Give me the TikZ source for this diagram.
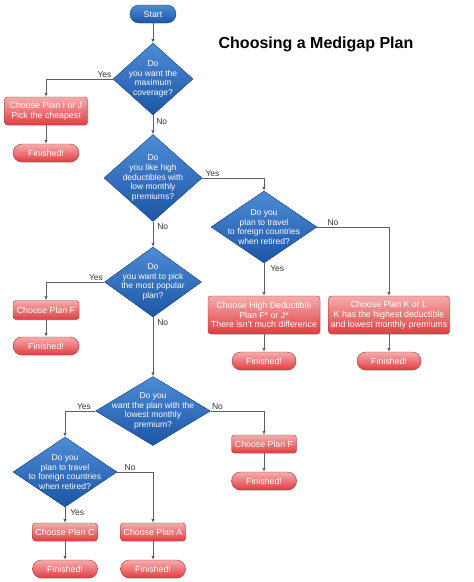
\documentclass[tikz,border=0pt]{standalone}
\usepackage{fontspec}
\setmainfont{Liberation Sans}
\usetikzlibrary{shapes.geometric,arrows.meta,shadows}

\definecolor{dblue}{RGB}{28,86,165}
\definecolor{lblue}{RGB}{78,140,215}
\definecolor{dred}{RGB}{222,62,66}
\definecolor{lred}{RGB}{247,172,172}
\definecolor{wire}{RGB}{95,95,95}

\tikzset{
  decision/.style={diamond, draw=dblue!70!black, top color=lblue, bottom color=dblue, inner sep=0pt},
  dtext/.style={text=white, align=center, font=\fontsize{8.5}{9.6}\selectfont},
  choice/.style={rectangle, rounded corners=3pt, draw=dred!75!black, top color=lred, bottom color=dred,
    text=white, align=center, inner sep=1pt, font=\fontsize{8.8}{9.8}\selectfont,
    drop shadow={opacity=0.18, shadow xshift=1pt, shadow yshift=-1pt}},
  finish/.style={choice, rounded corners=9pt, minimum width=66pt, minimum height=18pt},
  pill/.style={rectangle, rounded corners=9pt, draw=dblue!70!black, top color=lblue, bottom color=dblue,
    text=white, font=\fontsize{8.8}{9.8}\selectfont, minimum width=46pt, minimum height=18pt},
  wire/.style={draw=wire, line width=0.7pt, -{Latex[length=4pt,width=3.5pt]}},
  lab/.style={text=black!80, font=\fontsize{8.5}{9}\selectfont, inner sep=1pt}
}

\begin{document}
\begin{tikzpicture}[x=1pt,y=-1pt]
\useasboundingbox (0,0) rectangle (474,582);

% title and start
\node[font=\bfseries\fontsize{16}{18}\selectfont] (title) at (316,44) {Choosing a Medigap Plan};
\node[pill] (start) at (153,14) {Start};

% questions
\node[decision, minimum width=80pt, minimum height=72pt,
  label={[dtext]center:{Do\\you want the\\maximum\\coverage?}}] (q1) at (153,79) {};
\node[decision, minimum width=98pt, minimum height=87pt,
  label={[dtext]center:{Do\\you like high\\deductibles with\\low monthly\\premiums?}}] (q2) at (153,178) {};
\node[decision, minimum width=106pt, minimum height=72pt,
  label={[dtext]center:{Do you\\plan to travel\\to foreign countries\\when retired?}}] (q3) at (264,227) {};
\node[decision, minimum width=97pt, minimum height=70pt,
  label={[dtext]center:{Do\\you want to pick\\the most popular\\plan?}}] (q4) at (153,282) {};
\node[decision, minimum width=115pt, minimum height=69pt,
  label={[dtext]center:{Do you\\want the plan with the\\lowest monthly\\premium?}}] (q5) at (153,411) {};
\node[decision, minimum width=104pt, minimum height=70pt,
  label={[dtext]center:{Do you\\plan to travel\\to foreign countries\\when retired?}}] (q6) at (65,472) {};

% choices
\node[choice, minimum width=83pt, minimum height=28pt] (planIJ) at (46,111) {Choose Plan I or J\\Pick the cheapest};
\node[choice, minimum width=112pt, minimum height=38pt] (planHD) at (264,315) {Choose High Deductible\\Plan F* or J*\\There isn't much difference};
\node[choice, minimum width=121pt, minimum height=38pt] (planKL) at (389,315) {Choose Plan K or L\\K has the highest deductible\\and lowest monthly premiums};
\node[choice, minimum width=66pt, minimum height=19pt] (planF) at (46,310) {Choose Plan F};
\node[choice, minimum width=65pt, minimum height=18pt] (planF2) at (264,444) {Choose Plan F};
\node[choice, minimum width=65pt, minimum height=18pt] (planC) at (65,532) {Choose Plan C};
\node[choice, minimum width=65pt, minimum height=18pt] (planA) at (153,532) {Choose Plan A};

% finished
\node[finish] (end1) at (46,153) {Finished!};
\node[finish, minimum width=64pt] (end2) at (264,361) {Finished!};
\node[finish, minimum width=64pt] (end3) at (389,361) {Finished!};
\node[finish] (end4) at (46,346) {Finished!};
\node[finish, minimum width=65pt] (end5) at (264,481) {Finished!};
\node[finish, minimum width=65pt] (end6) at (65,569) {Finished!};
\node[finish, minimum width=65pt] (end7) at (153,569) {Finished!};

% connectors
\draw[wire] (start) -- (q1);
\draw[wire] (q1.west) -| node[pos=0, lab, anchor=south east] {Yes} (planIJ.north);
\draw[wire] (planIJ) -- (end1);
\draw[wire] (q1.south) -- node[pos=0, lab, anchor=north west, xshift=2pt, yshift=-2pt] {No} (q2.north);
\draw[wire] (q2.east) -| node[pos=0, lab, anchor=south west, xshift=2pt] {Yes} (q3.north);
\draw[wire] (q3.east) -| node[pos=0, lab, anchor=south west, xshift=9pt] {No} (planKL.north);
\draw[wire] (q3.south) -- node[pos=0, lab, anchor=north west, xshift=5pt, yshift=-1pt] {Yes} (planHD.north);
\draw[wire] (planHD) -- (end2);
\draw[wire] (planKL) -- (end3);
\draw[wire] (q2.south) -- node[pos=0, lab, anchor=north west, xshift=3pt, yshift=-1pt] {No} (q4.north);
\draw[wire] (q4.west) -| node[pos=0, lab, anchor=south east] {Yes} (planF.north);
\draw[wire] (planF) -- (end4);
\draw[wire] (q4.south) -- node[pos=0, lab, anchor=north west, xshift=3pt, yshift=-1pt] {No} (q5.north);
\draw[wire] (q5.west) -| node[pos=0, lab, anchor=south east, xshift=-3pt] {Yes} (q6.north);
\draw[wire] (q5.east) -| node[pos=0, lab, anchor=south west] {No} (planF2.north);
\draw[wire] (planF2) -- (end5);
\draw[wire] (q6.east) -| node[pos=0, lab, anchor=south west, xshift=6pt] {No} (planA.north);
\draw[wire] (q6.south) -- node[pos=0, lab, anchor=north west, xshift=4pt, yshift=-1pt] {Yes} (planC.north);
\draw[wire] (planC) -- (end6);
\draw[wire] (planA) -- (end7);
\end{tikzpicture}
\end{document}
